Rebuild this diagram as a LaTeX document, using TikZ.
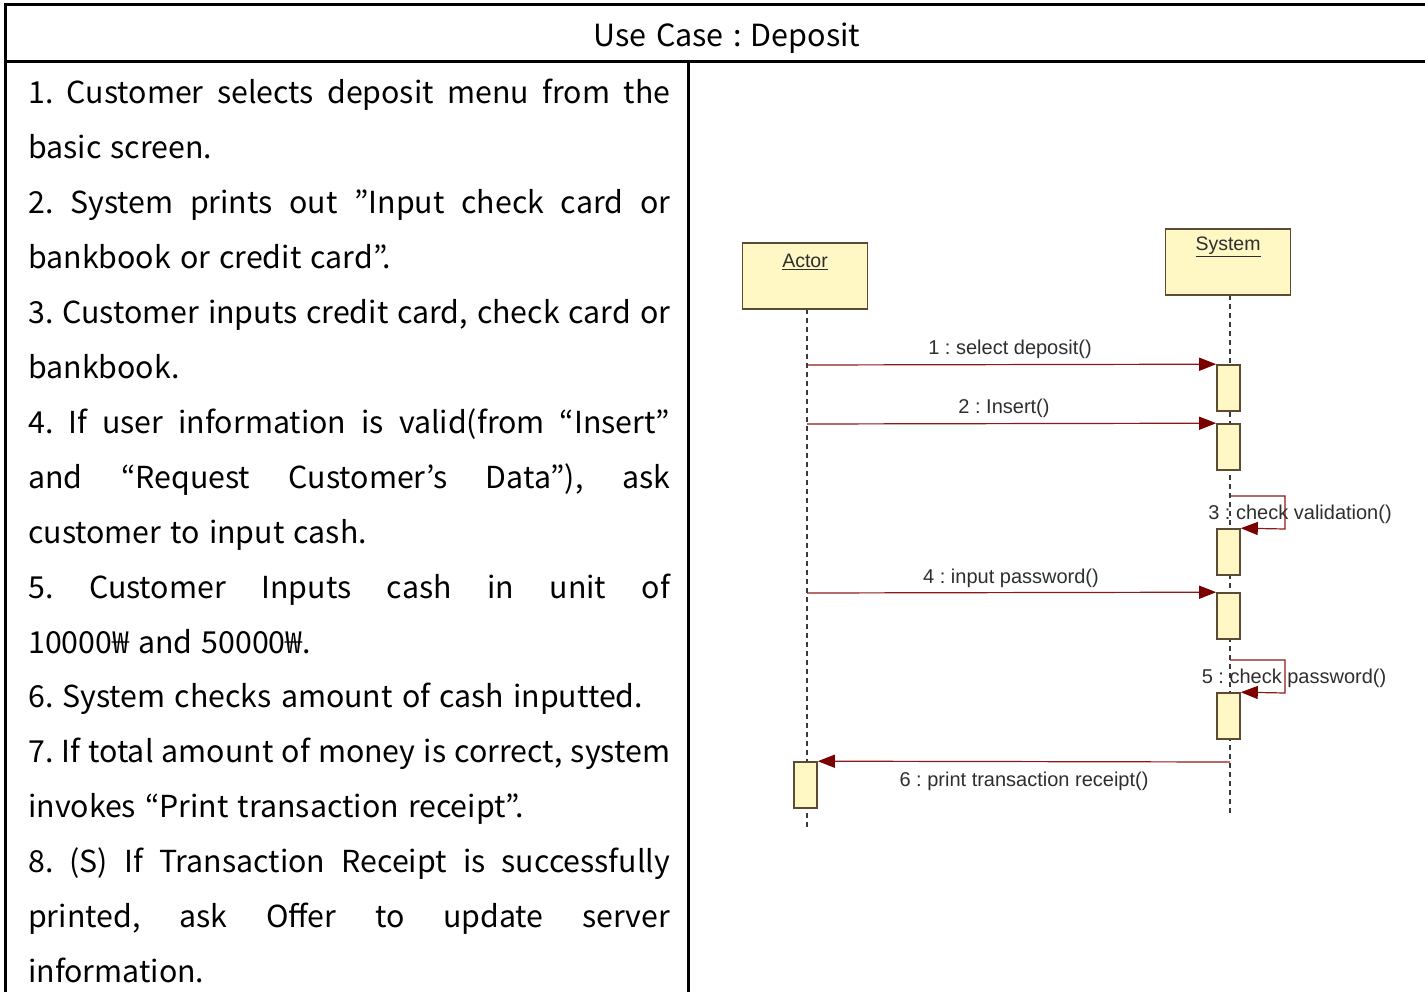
\documentclass[tikz,border=0pt]{standalone}
\usepackage{fontspec}
\setmainfont[WordSpace=1.35]{Noto Sans CJK KR}
\newfontfamily\seqfont{Liberation Sans}
\usetikzlibrary{arrows.meta}
\definecolor{boxfill}{HTML}{FFF8C4}
\definecolor{boxdraw}{HTML}{5C4A32}
\definecolor{msgcol}{HTML}{8B1A1A}
\definecolor{headcol}{HTML}{7A0000}
\definecolor{lifecol}{HTML}{3A3A3A}
\definecolor{lblcol}{HTML}{2E2E2E}
\tikzset{
  tableline/.style={line width=3pt,black},
  rowtext/.style={anchor=base west,inner sep=0pt,font=\fontsize{30.3}{35}\selectfont},
  headtext/.style={anchor=base,inner sep=0pt,font=\fontsize{30.5}{35}\selectfont},
  objbox/.style={draw=boxdraw,fill=boxfill,line width=1.6pt,minimum width=125pt,minimum height=66pt,inner sep=0pt},
  objlbl/.style={inner sep=0pt,text=lblcol,font=\seqfont\fontsize{19.5}{22}\selectfont},
  actbox/.style={draw=boxdraw,fill=boxfill,line width=1.6pt,minimum width=23pt,minimum height=46pt,inner sep=0pt},
  lifeline/.style={draw=lifecol,line width=1.8pt,dash pattern=on 5pt off 4pt},
  msg/.style={draw=msgcol,line width=1.2pt,-{Triangle[length=17pt,width=13pt,fill=headcol,color=headcol]}},
  msglbl/.style={inner sep=0pt,text=lblcol,font=\seqfont\fontsize{20}{22}\selectfont},
}
\frenchspacing
\begin{document}
\begin{tikzpicture}[x=1pt,y=-1pt]
\useasboundingbox (0,0) rectangle (1425,992);
\clip (0,0) rectangle (1425,992);
% table
\draw[tableline] (1450,5) -- (5,5) -- (5,1010);
\draw[tableline] (5,62) -- (1450,62);
\draw[tableline] (688,62) -- (688,1010);
\node[headtext] (head) at (727,47) {Use Case : Deposit};
% rows
\def\lw{642pt}
\node[rowtext] (r1) at (28,104.0) {\makebox[\lw][s]{1. Customer selects deposit menu from the}};
\node[rowtext] (r2) at (28,158.9) {basic screen.};
\node[rowtext] (r3) at (28,213.8) {\makebox[\lw][s]{2. System prints out ”Input check card or}};
\node[rowtext] (r4) at (28,268.7) {bankbook or credit card”.};
\node[rowtext] (r5) at (28,323.6) {\makebox[\lw][s]{3. Customer inputs credit card, check card or}};
\node[rowtext] (r6) at (28,378.5) {bankbook.};
\node[rowtext] (r7) at (28,433.4) {\makebox[\lw][s]{4. If user information is valid(from “Insert”}};
\node[rowtext] (r8) at (28,488.3) {\makebox[\lw][s]{and “Request Customer’s Data”), ask}};
\node[rowtext] (r9) at (28,543.2) {customer to input cash.};
\node[rowtext] (r10) at (28,598.1) {\makebox[\lw][s]{5. Customer Inputs cash in unit of}};
\node[rowtext] (r11) at (28,653.0) {10000₩ and 50000₩.};
\node[rowtext] (r12) at (28,707.9) {6. System checks amount of cash inputted.};
\node[rowtext] (r13) at (28,762.8) {\makebox[\lw][s]{7. If total amount of money is correct, system}};
\node[rowtext] (r14) at (28,817.7) {invokes “Print transaction receipt”.};
\node[rowtext] (r15) at (28,872.6) {\makebox[\lw][s]{8. (S) If Transaction Receipt is successfully}};
\node[rowtext] (r16) at (28,927.5) {\makebox[\lw][s]{printed, ask Offer to update server}};
\node[rowtext] (r17) at (28,982.4) {information.};
% sequence diagram
\coordinate (actbot) at (807,309);
\coordinate (actend) at (807,830);
\coordinate (sysbot) at (1230,295);
\coordinate (sysend) at (1230,815);
\draw[lifeline] (actbot) -- (actend);
\draw[lifeline] (sysbot) -- (sysend);
\node[objbox] (actor) at (805,276) {};
\node[objlbl] (actorlbl) at (805,262) {\underline{Actor}};
\node[objbox] (system) at (1228,262) {};
\node[objlbl] (systemlbl) at (1228,247) {\underline{System}};
\node[actbox] (act1) at (1228.5,388) {};
\node[actbox] (act2) at (1228.5,447) {};
\node[actbox] (act3) at (1228.5,552) {};
\node[actbox] (act4) at (1228.5,616) {};
\node[actbox] (act5) at (1228.5,716) {};
\node[actbox] (actA) at (805.5,785) {};
% messages
\coordinate (m1) at (807,365);
\coordinate (m2) at (807,424);
\coordinate (m4) at (807,593);
\coordinate (s3) at (1230,496);
\coordinate (s3r) at (1285,496);
\coordinate (s3b) at (1285,529);
\coordinate (s5) at (1230,660);
\coordinate (s5r) at (1285,660);
\coordinate (s5b) at (1285,693);
\coordinate (m6) at (1230,762);
\draw[msg] (m1) -- (act1.north west);
\draw[msg] (m2) -- (act2.north west);
\draw[msg] (s3) -- (s3r) -- (s3b) -- (act3.north east);
\draw[msg] (m4) -- (act4.north west);
\draw[msg] (s5) -- (s5r) -- (s5b) -- (act5.north east);
\draw[msg] (m6) -- (actA.north east);
\node[msglbl] (l1) at (1010,349) {1 : select deposit()};
\node[msglbl] (l2) at (1004,408) {2 : Insert()};
\node[msglbl] (l3) at (1300,514) {3 : check validation()};
\node[msglbl] (l4) at (1011,578) {4 : input password()};
\node[msglbl] (l5) at (1294,678) {5 : check password()};
\node[msglbl] (l6) at (1024,781) {6 : print transaction receipt()};
\end{tikzpicture}
\end{document}
